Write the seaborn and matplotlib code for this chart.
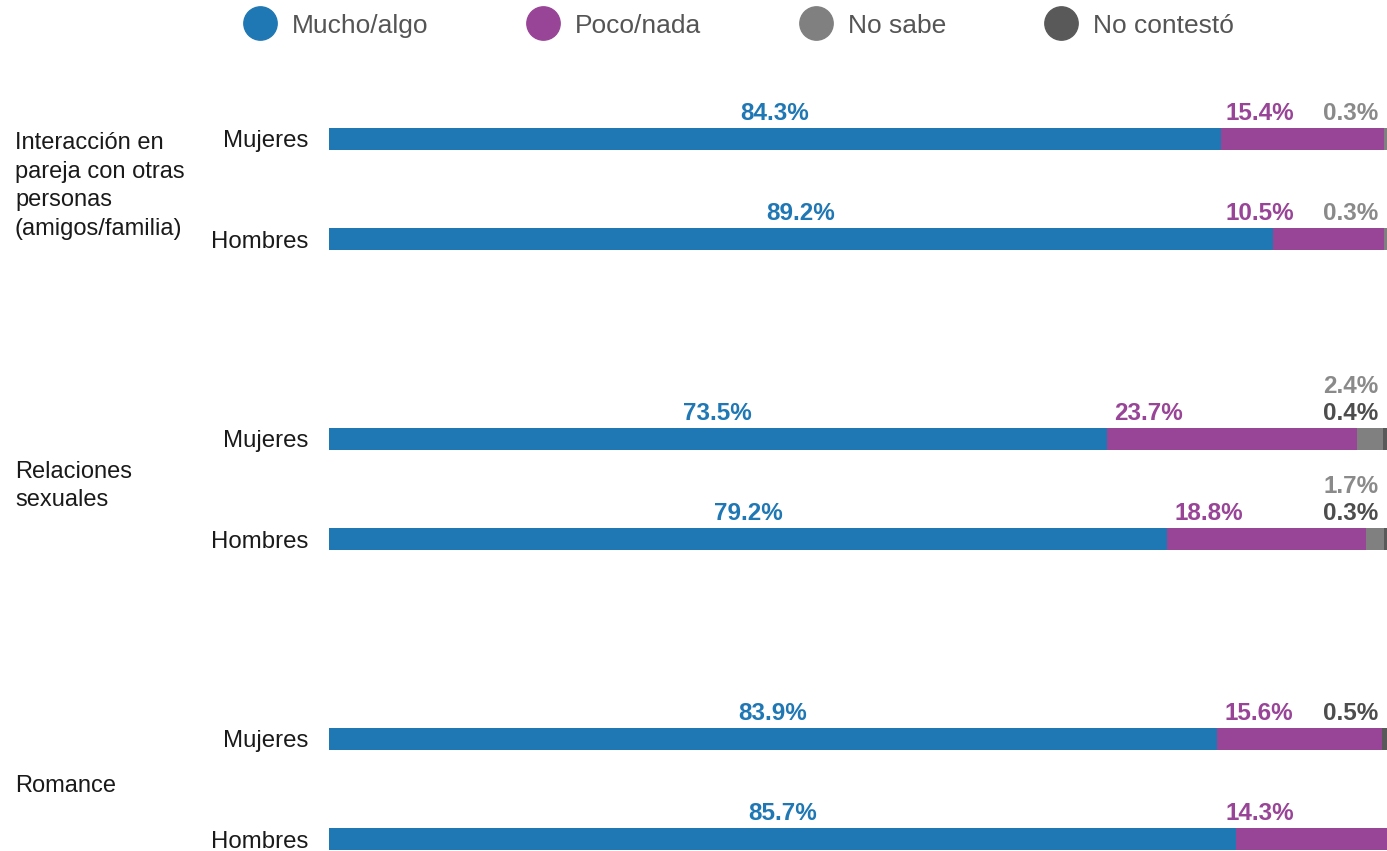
import pandas as pd
import matplotlib.pyplot as plt
import matplotlib.transforms as mtransforms
from matplotlib.lines import Line2D
import seaborn as sns

# Data
topics = ['Interacción en\npareja con otras\npersonas\n(amigos/familia)',
          'Relaciones\nsexuales',
          'Romance']
sexes = ['Mujeres', 'Hombres']
mucho_algo = [84.3, 89.2, 73.5, 79.2, 83.9, 85.7]
poco_nada = [15.4, 10.5, 23.7, 18.8, 15.6, 14.3]
no_sabe = [0.3, 0.3, 2.4, 1.7, 0.0, 0.0]
no_contesto = [0.0, 0.0, 0.4, 0.3, 0.5, 0.0]

series_names = ['Mucho/algo', 'Poco/nada', 'No sabe', 'No contestó']
bar_colors = ['#1f77b4', '#984497', '#808080', '#595959']
text_colors = ['#1f77b4', '#984497', '#8a8a8a', '#4d4d4d']

# rows: one per topic/sex, with blank spacer rows between topics
rows = [f'{t}|{s}' for t in topics for s in sexes]
order = []
for i, t in enumerate(topics):
    if i > 0:
        order.append(' ' * i)
    order += [f'{t}|{s}' for s in sexes]

df = pd.DataFrame({'row': rows, 'Mucho/algo': mucho_algo, 'Poco/nada': poco_nada,
                   'No sabe': no_sabe, 'No contestó': no_contesto})
cum = df[series_names].cumsum(axis=1)

sns.set_style('white')
plt.rcParams['font.family'] = ['Liberation Sans', 'DejaVu Sans']

fig = plt.figure(figsize=(13.87, 8.51), dpi=100)
ax = fig.add_axes([329 / 1387, 0.0, 1 - 329 / 1387, 1.0])

# stacked bars: draw cumulative totals from the back to the front
for name, color in reversed(list(zip(series_names, bar_colors))):
    sns.barplot(x=cum[name], y=df['row'], order=order, orient='h', color=color,
                width=0.22, saturation=1, linewidth=0, ax=ax)

ax.set_xlim(0, 100)
ax.set_ylim(7.12, -1.39)
ax.set_xlabel('')
ax.set_ylabel('')
ax.set_xticks([])
sns.despine(ax=ax, left=True, bottom=True)

pos = [order.index(r) for r in rows]
ax.set_yticks(pos, [r.split('|')[1] for r in rows])
ax.tick_params(axis='y', length=0, pad=15, labelsize=17.3, labelcolor='#1a1a1a')

# value labels
for k, r in df.iterrows():
    y = pos[k]
    base = y - 0.19
    a, b, c, d = r['Mucho/algo'], r['Poco/nada'], r['No sabe'], r['No contestó']
    kw = dict(fontsize=17.5, fontweight='bold', ha='center', va='baseline')
    ax.text(a / 2, base, f'{a:.1f}%', color=text_colors[0], **kw)
    ax.text(min(a + 4, 88), base, f'{b:.1f}%', color=text_colors[1], **kw)
    if c > 0 and d > 0:
        ax.text(96.6, base - 0.27, f'{c:.1f}%', color=text_colors[2], **kw)
        ax.text(96.6, base, f'{d:.1f}%', color=text_colors[3], **kw)
    elif c > 0:
        ax.text(96.6, base, f'{c:.1f}%', color=text_colors[2], **kw)
    elif d > 0:
        ax.text(96.6, base, f'{d:.1f}%', color=text_colors[3], **kw)

# topic labels on the far left
trans = mtransforms.blended_transform_factory(fig.transFigure, ax.transData)
for i, t in enumerate(topics):
    yc = (order.index(f'{t}|Mujeres') + order.index(f'{t}|Hombres')) / 2
    ax.text(15 / 1387, yc - 0.03, t, transform=trans, ha='left', va='center',
            fontsize=17, color='#1a1a1a', linespacing=1.41)

handles = [Line2D([], [], marker='o', linestyle='', markersize=24,
                  markerfacecolor=c, markeredgecolor=c) for c in bar_colors]
fig.legend(handles, series_names, loc='center', bbox_to_anchor=(0.529, 0.97),
           ncol=4, frameon=False, fontsize=19, labelcolor='#555555',
           handletextpad=0.2, columnspacing=3.35)

fig.savefig('out.png', dpi=100)
